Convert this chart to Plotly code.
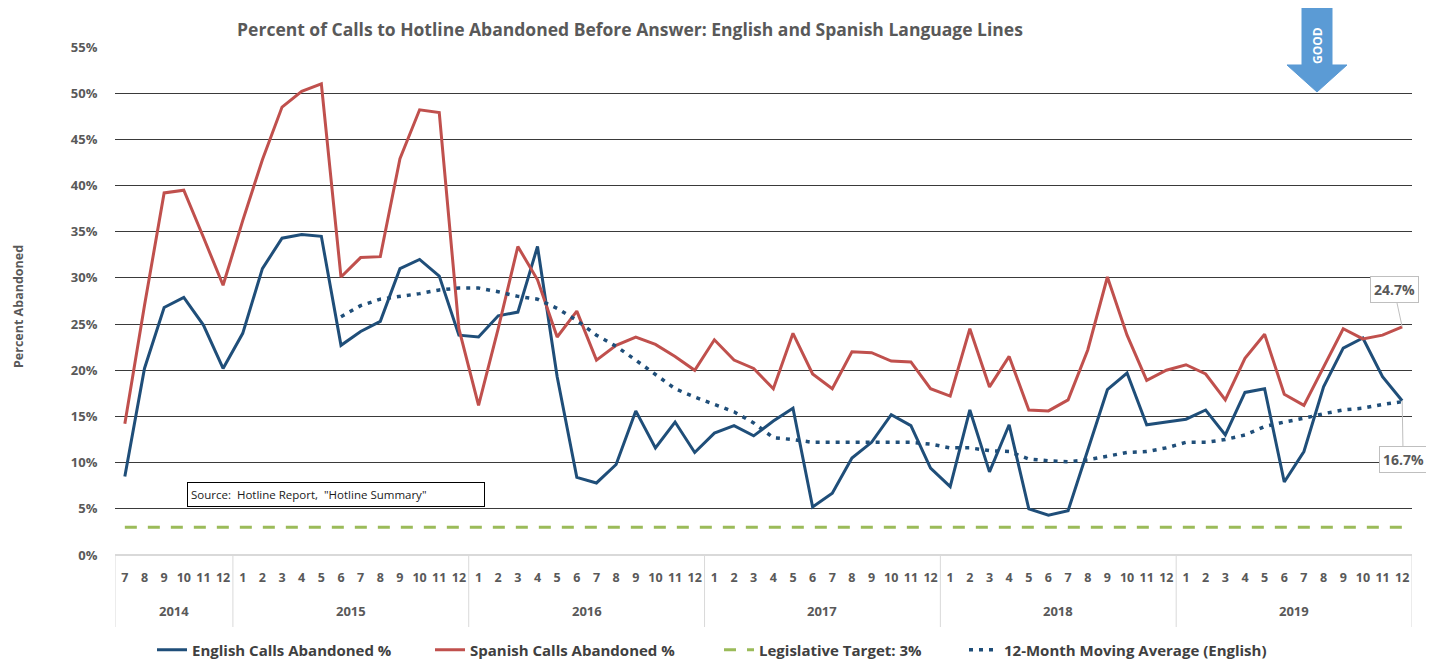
import plotly.graph_objects as go

# ---------------- data ----------------
year_labels = ["2014", "2015", "2016", "2017", "2018", "2019"]
year_counts = [6, 12, 12, 12, 12, 12]
months = [str(m) for m in range(7, 13)] + [str(m) for m in range(1, 13)] * 5

english = [8.5, 20.2, 26.8, 27.9, 24.9, 20.2,
           24.0, 31.0, 34.3, 34.7, 34.5, 22.7, 24.2, 25.3, 31.0, 32.0, 30.2, 23.8,
           23.6, 25.9, 26.3, 33.4, 19.3, 8.4, 7.8, 9.8, 15.6, 11.6, 14.4, 11.1,
           13.2, 14.0, 12.9, 14.5, 15.9, 5.2, 6.7, 10.5, 12.2, 15.2, 14.0, 9.4,
           7.4, 15.7, 9.0, 14.1, 5.0, 4.3, 4.8, 11.4, 17.9, 19.7, 14.1, 14.4,
           14.7, 15.7, 13.0, 17.6, 18.0, 7.9, 11.2, 18.2, 22.4, 23.5, 19.3, 16.7]

spanish = [14.2, 27.0, 39.2, 39.5, 34.4, 29.2,
           36.2, 42.8, 48.5, 50.2, 51.0, 30.1, 32.2, 32.3, 42.9, 48.2, 47.9, 24.5,
           16.2, 24.5, 33.4, 29.8, 23.6, 26.4, 21.1, 22.7, 23.6, 22.8, 21.5, 20.0,
           23.3, 21.1, 20.2, 18.0, 24.0, 19.6, 18.0, 22.0, 21.9, 21.0, 20.9, 18.0,
           17.2, 24.5, 18.2, 21.5, 15.7, 15.6, 16.8, 22.2, 30.1, 23.8, 18.9, 20.0,
           20.6, 19.6, 16.8, 21.3, 23.9, 17.4, 16.2, 20.4, 24.5, 23.4, 23.8, 24.7]

target = [3.0] * 66

moving_avg = [None] * 11 + [
    25.8, 27.0, 27.7, 28.0, 28.3, 28.7, 28.9,
    28.9, 28.5, 28.0, 27.7, 26.7, 25.4, 23.8, 22.6, 21.1, 19.5, 18.0, 17.1,
    16.3, 15.5, 14.3, 12.7, 12.5, 12.2, 12.2, 12.2, 12.2, 12.2, 12.2, 12.0,
    11.6, 11.6, 11.3, 11.2, 10.4, 10.2, 10.1, 10.3, 10.7, 11.1, 11.2, 11.6,
    12.2, 12.2, 12.5, 13.0, 13.9, 14.4, 14.8, 15.3, 15.7, 15.9, 16.3, 16.6]

y_ticks = list(range(0, 60, 5))
y_tick_text = [f"{v}%" for v in y_ticks]

# ---------------- layout helpers (screen pixel coordinates) ----------------
SW, SH = 1434, 663          # browser window
OFF = 8                     # default page body margin
W, H = SW - OFF, SH - OFF   # figure size so it ends exactly at the window edge
PLX0, PLX1, PLY0, PLY1 = 115, 1412, 47, 555   # plot area on screen
L, R, T, B = PLX0 - OFF, SW - PLX1, PLY0 - OFF, SH - PLY1
PW, PH = PLX1 - PLX0, PLY1 - PLY0


def px(xs):
    return (xs - PLX0) / PW


def py(ys):
    return (PLY1 - ys) / PH


def cx(xs):
    return (xs - OFF) / W


def cy(ys):
    return 1 - (ys - OFF) / H


FONT = "Open Sans"
GRAY = "#595959"
BLUE = "#1F4E79"
RED = "#C0504D"
GREEN = "#9BBB59"

xi = list(range(len(months)))

fig = go.Figure()
fig.add_trace(go.Scatter(x=xi, y=english, mode="lines", name="English Calls Abandoned %",
                         line=dict(color=BLUE, width=3), legend="legend"))
fig.add_trace(go.Scatter(x=xi, y=spanish, mode="lines", name="Spanish Calls Abandoned %",
                         line=dict(color=RED, width=3), legend="legend2"))
fig.add_trace(go.Scatter(x=xi, y=target, mode="lines", name="Legislative Target: 3%",
                         line=dict(color=GREEN, width=3, dash="12px,11px"), legend="legend3"))
fig.add_trace(go.Scatter(x=xi, y=moving_avg, mode="lines", name="12-Month Moving Average (English)",
                         line=dict(color=BLUE, width=3.5, dash="4px,6px"), legend="legend4"))

legend_font = dict(family=FONT, size=15, color="#404040", weight="bold")
leg_common = dict(orientation="h", yanchor="middle", xanchor="left", font=legend_font,
                  bgcolor="rgba(0,0,0,0)", itemwidth=30, xref="container", yref="container")
legend_y = cy(650)

fig.update_layout(
    width=W, height=H,
    margin=dict(l=L, r=R, t=T, b=B, autoexpand=False),
    paper_bgcolor="white", plot_bgcolor="white",
    font=dict(family=FONT, color=GRAY),
    title=dict(text="<b>Percent of Calls to Hotline Abandoned Before Answer: English and Spanish Language Lines</b>",
               font=dict(family=FONT, size=17.5, color=GRAY),
               x=cx(630), y=cy(30), xref="container", yref="container",
               xanchor="center", yanchor="middle"),
    showlegend=True,
    legend=dict(x=cx(152), y=legend_y, **leg_common),
    legend2=dict(x=cx(430), y=legend_y, **leg_common),
    legend3=dict(x=cx(719), y=legend_y, **leg_common),
    legend4=dict(x=cx(964), y=legend_y, **leg_common),
    xaxis=dict(range=[-0.5, len(months) - 0.5], tickmode="array", tickvals=xi, ticktext=months,
               tickangle=0, showgrid=False, showline=False, zeroline=False,
               ticks="outside", ticklen=11, tickcolor="rgba(0,0,0,0)",
               tickfont=dict(family=FONT, size=12.5, color=GRAY, weight="bold"),
               fixedrange=True),
    yaxis=dict(range=[0, 55], tickvals=y_ticks, ticktext=y_tick_text,
               showgrid=True, gridcolor="#3a3a3a", gridwidth=1.1,
               zeroline=True, zerolinecolor="#D9D9D9", zerolinewidth=1.5,
               ticks="outside", ticklen=14, tickcolor="rgba(0,0,0,0)",
               tickfont=dict(family=FONT, size=13, color=GRAY, weight="bold"),
               showline=False, fixedrange=True),
)

# year group labels and dividers
start = 0
bounds = [-0.5]
for lab, n in zip(year_labels, year_counts):
    center = start + (n - 1) / 2
    fig.add_annotation(text=f"<b>{lab}</b>", x=center, xref="x", y=py(611), yref="paper",
                       xanchor="center", yanchor="middle",
                       showarrow=False, font=dict(family=FONT, size=13, color=GRAY))
    start += n
    bounds.append(start - 0.5)
for b in bounds:
    fig.add_shape(type="line", x0=b, x1=b, xref="x", y0=0, y1=py(627), yref="paper",
                  line=dict(color="#D9D9D9", width=1))

# y axis title
fig.add_annotation(text="<b>Percent Abandoned</b>", xref="paper", yref="paper",
                   x=px(18), y=py(307), xanchor="center", yanchor="middle",
                   showarrow=False, textangle=-90,
                   font=dict(family=FONT, size=12.5, color=GRAY))

# source box
fig.add_annotation(text='Source:  Hotline Report,  "Hotline Summary"', xref="paper", yref="paper",
                   x=px(336), y=py(494.5), xanchor="center", yanchor="middle",
                   showarrow=False, align="left",
                   width=290, height=17, bordercolor="#000000", borderwidth=1, borderpad=3,
                   bgcolor="white", font=dict(family=FONT, size=11.5, color="#1a1a1a"))

# data labels at the last point
last = len(months) - 1
fig.add_annotation(x=last, y=spanish[-1], xref="x", yref="y", text="<b>24.7%</b>",
                   showarrow=True, arrowhead=0, arrowwidth=1, arrowcolor="#BFBFBF",
                   ax=-8, ay=-37, bordercolor="#BFBFBF", borderwidth=1, borderpad=3,
                   bgcolor="white", font=dict(family=FONT, size=14, color=GRAY))
fig.add_annotation(x=last, y=english[-1], xref="x", yref="y", text="<b>16.7%</b>",
                   showarrow=True, arrowhead=0, arrowwidth=1, arrowcolor="#BFBFBF",
                   ax=1, ay=59, bordercolor="#BFBFBF", borderwidth=1, borderpad=3,
                   bgcolor="white", font=dict(family=FONT, size=14, color=GRAY))

# GOOD arrow
pts = [(1302, 5), (1332, 5), (1332, 65), (1347, 65), (1317, 92), (1287, 65), (1302, 65)]
path = "M " + " L ".join(f"{px(a):.5f},{py(b):.5f}" for a, b in pts) + " Z"
fig.add_shape(type="path", path=path, xref="paper", yref="paper",
              fillcolor="#5B9BD5", line=dict(color="#5B9BD5", width=1), layer="above")
fig.add_annotation(text="<b>GOOD</b>", xref="paper", yref="paper", x=px(1317), y=py(46),
                   xanchor="center", yanchor="middle",
                   showarrow=False, textangle=-90, font=dict(family=FONT, size=12, color="white"))

fig.write_html("out.html")
